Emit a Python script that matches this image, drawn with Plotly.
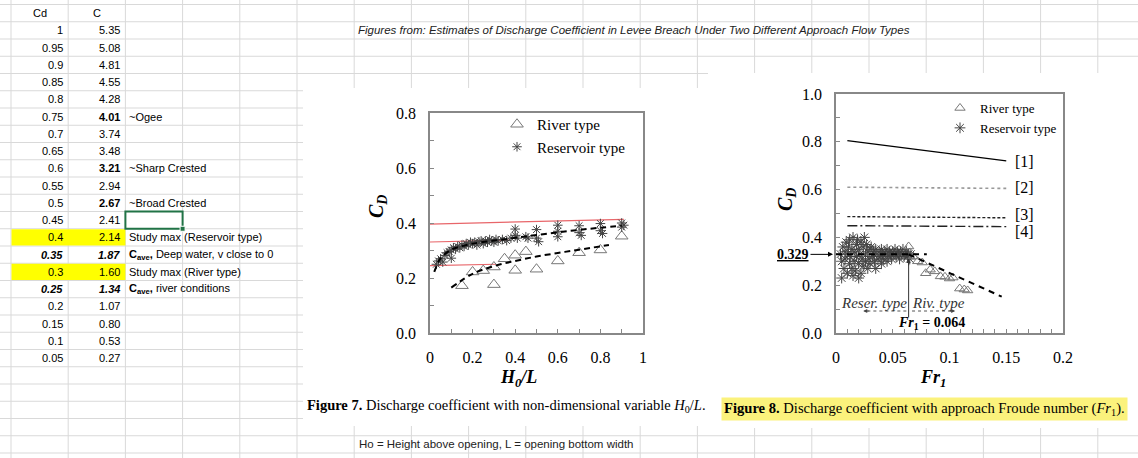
import plotly.graph_objects as go

W, H = 1138, 458

# ---------------- spreadsheet data ----------------
cd_vals = [1, 0.95, 0.9, 0.85, 0.8, 0.75, 0.7, 0.65, 0.6, 0.55, 0.5, 0.45, 0.4, 0.35, 0.3, 0.25, 0.2, 0.15, 0.1, 0.05]
c_vals = [5.35, 5.08, 4.81, 4.55, 4.28, 4.01, 3.74, 3.48, 3.21, 2.94, 2.67, 2.41, 2.14, 1.87, 1.60, 1.34, 1.07, 0.80, 0.53, 0.27]
notes = ["", "", "", "", "", "~Ogee", "", "", "~Sharp Crested", "", "~Broad Crested", "",
         "Study max (Reservoir type)", "<b>C<sub>ave</sub>,</b> Deep water, v close to 0",
         "Study max (River type)", "<b>C<sub>ave</sub>,</b> river conditions", "", "", "", ""]
c_bold = [0, 0, 0, 0, 0, 1, 0, 0, 1, 0, 1, 0, 0, 1, 0, 1, 0, 0, 0, 0]
row_italic = [0] * 13 + [1, 0, 1] + [0] * 4
row_yellow = [0] * 12 + [1, 0, 1] + [0] * 5
selected_row = 11
sheet_title = "Figures from: Estimates of Discharge Coefficient in Levee Breach Under Two Different Approach Flow Types"
sheet_footnote = "Ho = Height above opening, L = opening bottom width"

# ---------------- Figure 7 data (Cd vs H0/L) ----------------
f7_river_x = [0.15, 0.20, 0.25, 0.30, 0.30, 0.35, 0.40, 0.40, 0.45, 0.50, 0.60, 0.70, 0.80, 0.90]
f7_river_y = [0.172, 0.222, 0.227, 0.240, 0.176, 0.270, 0.283, 0.228, 0.296, 0.232, 0.262, 0.292, 0.302, 0.352]
f7_res_x = [0.03, 0.04, 0.05, 0.06, 0.07, 0.08, 0.09, 0.10, 0.10, 0.11, 0.12, 0.13, 0.14, 0.15, 0.16, 0.17,
            0.18, 0.19, 0.20, 0.21, 0.22, 0.23, 0.24, 0.25, 0.26, 0.27, 0.28, 0.29, 0.30, 0.31, 0.32, 0.34,
            0.36, 0.38, 0.40, 0.40, 0.41, 0.45, 0.46, 0.50, 0.50, 0.51, 0.60, 0.60, 0.60, 0.70, 0.70, 0.71,
            0.80, 0.80, 0.81, 0.90, 0.90, 0.91]
f7_res_y = [0.250, 0.262, 0.270, 0.258, 0.282, 0.292, 0.296, 0.302, 0.272, 0.310, 0.305, 0.315, 0.310, 0.320,
            0.315, 0.325, 0.320, 0.330, 0.325, 0.330, 0.320, 0.332, 0.335, 0.325, 0.335, 0.330, 0.340, 0.335,
            0.330, 0.340, 0.335, 0.340, 0.336, 0.345, 0.378, 0.355, 0.345, 0.350, 0.345, 0.376, 0.345, 0.332,
            0.392, 0.370, 0.350, 0.390, 0.365, 0.355, 0.398, 0.372, 0.362, 0.400, 0.385, 0.392]
f7_resfit_x = [0.02, 0.05, 0.10, 0.15, 0.20, 0.30, 0.40, 0.50, 0.60, 0.70, 0.80, 0.90]
f7_resfit_y = [0.222, 0.272, 0.303, 0.316, 0.325, 0.336, 0.346, 0.356, 0.366, 0.375, 0.383, 0.390]
f7_rivfit_x = [0.10, 0.20, 0.30, 0.40, 0.50, 0.60, 0.70, 0.84]
f7_rivfit_y = [0.165, 0.215, 0.243, 0.262, 0.278, 0.291, 0.303, 0.320]
f7_red_x = [[0.0, 0.91], [0.0, 0.37], [0.0, 0.31]]
f7_red_y = [[0.396, 0.413], [0.331, 0.338], [0.245, 0.250]]

# ---------------- Figure 8 data (Cd vs Fr1) ----------------
f8_river_x = [0.064, 0.068, 0.072, 0.076, 0.079, 0.083, 0.087, 0.092, 0.096, 0.100, 0.103, 0.109, 0.113, 0.116]
f8_river_y = [0.362, 0.320, 0.300, 0.295, 0.250, 0.265, 0.258, 0.237, 0.235, 0.228, 0.232, 0.186, 0.182, 0.178]
f8_res_x = [0.004, 0.005, 0.005, 0.006, 0.007, 0.008, 0.008, 0.009, 0.010, 0.010, 0.011, 0.012, 0.012, 0.013,
            0.014, 0.014, 0.015, 0.016, 0.016, 0.017, 0.018, 0.018, 0.019, 0.020, 0.020, 0.021, 0.022, 0.022,
            0.023, 0.024, 0.024, 0.025, 0.026, 0.026, 0.027, 0.028, 0.028, 0.029, 0.030, 0.030, 0.031, 0.032,
            0.033, 0.034, 0.035, 0.036, 0.037, 0.038, 0.039, 0.040, 0.041, 0.042, 0.043, 0.044, 0.045, 0.046,
            0.047, 0.048, 0.049, 0.050, 0.051, 0.052, 0.053, 0.054, 0.055, 0.056, 0.057, 0.058, 0.059, 0.060,
            0.061, 0.062, 0.063, 0.064, 0.065, 0.066, 0.035, 0.040, 0.045, 0.020, 0.015]
f8_res_y = [0.33, 0.30, 0.23, 0.36, 0.27, 0.34, 0.31, 0.38, 0.25, 0.33, 0.36, 0.29, 0.39, 0.32,
            0.27, 0.35, 0.40, 0.30, 0.34, 0.26, 0.37, 0.32, 0.39, 0.29, 0.35, 0.33, 0.25, 0.38,
            0.31, 0.36, 0.28, 0.40, 0.33, 0.30, 0.37, 0.27, 0.34, 0.31, 0.35, 0.29, 0.36, 0.32,
            0.34, 0.30, 0.35, 0.33, 0.31, 0.34, 0.32, 0.35, 0.33, 0.31, 0.34, 0.33, 0.35, 0.32,
            0.34, 0.33, 0.31, 0.34, 0.33, 0.35, 0.32, 0.34, 0.33, 0.31, 0.34, 0.33, 0.35, 0.32,
            0.33, 0.34, 0.32, 0.33, 0.31, 0.33, 0.27, 0.29, 0.30, 0.23, 0.24]
f8_ref_x = [0.01, 0.15]
f8_ref_y = {"[1]": [0.805, 0.720], "[2]": [0.610, 0.605], "[3]": [0.487, 0.482], "[4]": [0.449, 0.445]}
f8_ref_label_y = {"[1]": 0.716, "[2]": 0.607, "[3]": 0.494, "[4]": 0.423}
fr_threshold = 0.064
cd_avg = 0.329
f8_resfit_x = [0.0, 0.08]
f8_rivfit_x = [0.064, 0.146]
f8_rivfit_y = [0.329, 0.152]

# ---------------- helpers ----------------
def px(x):
    return x / W

def py(y):
    return 1 - y / H

SERIF = "Liberation Serif"
SANS = "Liberation Sans"
GRID = "#d9d9d9"

col_x = [11 + 57.2 * i for i in range(20)]
row_y = [4.5 + 17.25 * k for k in range(27)]
row_c = [4.5 + 17.25 * (k + 0.5) for k in range(27)]

shapes = []
for x in col_x:
    shapes.append(dict(type="line", xref="paper", yref="paper", x0=px(x), x1=px(x), y0=0, y1=1,
                       line=dict(color=GRID, width=1), layer="below"))
for y in row_y:
    shapes.append(dict(type="line", xref="paper", yref="paper", x0=0, x1=1, y0=py(y), y1=py(y),
                       line=dict(color=GRID, width=1), layer="below"))
# pasted figure images (white)
for (x0, y0, x1, y1) in [(303, 88, 708, 426), (708, 73, 1138, 428)]:
    shapes.append(dict(type="rect", xref="paper", yref="paper", x0=px(x0), x1=px(x1), y0=py(y1), y1=py(y0),
                       fillcolor="white", line=dict(width=0), layer="below"))
# yellow cells
for i, yel in enumerate(row_yellow):
    if yel:
        k = i + 1
        shapes.append(dict(type="rect", xref="paper", yref="paper", x0=px(col_x[0] + 0.5), x1=px(col_x[2]),
                           y0=py(row_y[k + 1] - 0.5), y1=py(row_y[k] + 0.5),
                           fillcolor="#ffff00", line=dict(width=0), layer="below"))
# selected cell
ks = selected_row + 1
shapes.append(dict(type="rect", xref="paper", yref="paper", x0=px(col_x[2]), x1=px(col_x[3]),
                   y0=py(row_y[ks + 1]), y1=py(row_y[ks]), line=dict(color="#217346", width=2),
                   fillcolor="rgba(0,0,0,0)", layer="below"))
shapes.append(dict(type="rect", xref="paper", yref="paper", x0=px(col_x[3] - 2.5), x1=px(col_x[3] + 2.5),
                   y0=py(row_y[ks + 1] + 2.5), y1=py(row_y[ks + 1] - 2.5), line=dict(color="white", width=1),
                   fillcolor="#217346", layer="below"))

annotations = []
cell_font = dict(family=SANS, size=11, color="black")
annotations.append(dict(text="Cd", x=px((col_x[0] + col_x[1]) / 2), y=py(row_c[0]), xref="paper", yref="paper",
                        showarrow=False, font=cell_font, xanchor="center", yanchor="middle"))
annotations.append(dict(text="C", x=px((col_x[1] + col_x[2]) / 2), y=py(row_c[0]), xref="paper", yref="paper",
                        showarrow=False, font=cell_font, xanchor="center", yanchor="middle"))
for i, (cd, c) in enumerate(zip(cd_vals, c_vals)):
    k = i + 1
    ycen = py(row_c[k])
    t_cd = f"{cd:g}"
    t_c = f"{c:.2f}"
    if row_italic[i]:
        t_cd = f"<b><i>{t_cd}</i></b>"
        t_c = f"<b><i>{t_c}</i></b>"
    elif c_bold[i]:
        t_c = f"<b>{t_c}</b>"
    annotations.append(dict(text=t_cd, x=px(col_x[1] - 3), y=ycen, xref="paper", yref="paper", showarrow=False,
                            font=cell_font, xanchor="right", yanchor="middle"))
    annotations.append(dict(text=t_c, x=px(col_x[2] - 3), y=ycen, xref="paper", yref="paper", showarrow=False,
                            font=cell_font, xanchor="right", yanchor="middle"))
    if notes[i]:
        annotations.append(dict(text=notes[i], x=px(col_x[2] + 2), y=ycen, xref="paper", yref="paper",
                                showarrow=False, font=cell_font, xanchor="left", yanchor="middle"))

annotations.append(dict(text=f"<i>{sheet_title}</i>", x=px(356), y=py(row_c[1]), xref="paper", yref="paper",
                        showarrow=False, font=dict(family=SANS, size=11.5, color="#222"), xanchor="left",
                        yanchor="middle"))
annotations.append(dict(text=sheet_footnote, x=px(357), y=py(row_c[25]), xref="paper", yref="paper",
                        showarrow=False, font=dict(family=SANS, size=11.5, color="#222"), xanchor="left",
                        yanchor="middle"))

# figure captions
annotations.append(dict(text="<b>Figure 7.</b> Discharge coefficient with non-dimensional variable <i>H</i><sub>0</sub>/<i>L</i>.",
                        x=px(305), y=py(406), xref="paper", yref="paper", showarrow=False,
                        font=dict(family=SERIF, size=14.5, color="black"), xanchor="left", yanchor="middle"))
annotations.append(dict(text="<b>Figure 8.</b> Discharge coefficient with approach Froude number (<i>Fr</i><sub>1</sub>).",
                        x=px(721), y=py(409), xref="paper", yref="paper", showarrow=False,
                        font=dict(family=SERIF, size=14.6, color="black"), xanchor="left", yanchor="middle",
                        bgcolor="#fbf27c", borderpad=2))

# axis titles
annotations += [
    dict(text="<b><i>C<sub>D</sub></i></b>", x=px(377), y=py(207), xref="paper", yref="paper", showarrow=False,
         textangle=-90, xanchor="center", yanchor="middle", font=dict(family=SERIF, size=20, color="black")),
    dict(text="<b><i>H<sub>0</sub>/L</i></b>", x=px(518), y=py(378), xref="paper", yref="paper", showarrow=False,
         xanchor="center", yanchor="middle", font=dict(family=SERIF, size=18, color="black")),
    dict(text="<b><i>C<sub>D</sub></i></b>", x=px(786), y=py(200), xref="paper", yref="paper", showarrow=False,
         textangle=-90, xanchor="center", yanchor="middle", font=dict(family=SERIF, size=20, color="black")),
    dict(text="<b><i>Fr<sub>1</sub></i></b>", x=px(933), y=py(378), xref="paper", yref="paper", showarrow=False,
         xanchor="center", yanchor="middle", font=dict(family=SERIF, size=18, color="black")),
]

# figure 8 labels
for lab, yv in f8_ref_label_y.items():
    annotations.append(dict(text=lab, x=0.156, y=yv, xref="x2", yref="y2", showarrow=False, xanchor="left",
                            yanchor="middle", font=dict(family=SERIF, size=16, color="black")))
annotations += [
    dict(text="<b><u>0.329</u></b>", x=px(833), y=cd_avg, xref="paper", yref="y2", showarrow=True,
         ax=-40, ay=0, arrowhead=2, arrowsize=1, arrowwidth=1, arrowcolor="black",
         font=dict(family=SERIF, size=14, color="black")),
    dict(text="<i>Reser. type</i>", x=0.0335, y=0.126, xref="x2", yref="y2", showarrow=False,
         font=dict(family=SERIF, size=15, color="#333")),
    dict(text="<i>Riv. type</i>", x=0.090, y=0.126, xref="x2", yref="y2", showarrow=False,
         font=dict(family=SERIF, size=15, color="#333")),
    dict(text="<b><i>Fr</i><sub>1</sub> = 0.064</b>", x=0.0837, y=0.04, xref="x2", yref="y2", showarrow=False,
         font=dict(family=SERIF, size=14, color="black")),
    dict(text="", x=0.024, y=0.092, xref="x2", yref="y2", showarrow=True, ax=7, ay=0, arrowhead=2,
         arrowsize=0.8, arrowwidth=1, arrowcolor="#444"),
    dict(text="", x=0.105, y=0.092, xref="x2", yref="y2", showarrow=True, ax=-7, ay=0, arrowhead=2,
         arrowsize=0.8, arrowwidth=1, arrowcolor="#444"),
    dict(text="", x=fr_threshold, y=0.31, xref="x2", yref="y2", showarrow=True, ax=0, ay=8, arrowhead=2,
         arrowsize=0.8, arrowwidth=1, arrowcolor="#333"),
]
shapes += [
    dict(type="line", xref="x2", yref="y2", x0=fr_threshold, x1=fr_threshold, y0=0.065, y1=0.31,
         line=dict(color="#333", width=1)),
    dict(type="line", xref="x2", yref="y2", x0=0.062, x1=0.025, y0=0.092, y1=0.092,
         line=dict(color="#555", width=1, dash="dot")),
    dict(type="line", xref="x2", yref="y2", x0=0.067, x1=0.104, y0=0.092, y1=0.092,
         line=dict(color="#555", width=1, dash="dot")),
]

fig = go.Figure()

# ---- Figure 7 traces ----
for xs, ys in zip(f7_red_x, f7_red_y):
    fig.add_trace(go.Scatter(x=xs, y=ys, mode="lines", line=dict(color="#e8666a", width=1.2),
                             showlegend=False, xaxis="x", yaxis="y"))
fig.add_trace(go.Scatter(x=f7_river_x, y=f7_river_y, mode="markers", name="River type",
                         marker=dict(symbol="triangle-up-open", size=11, color="#777", line=dict(width=1)),
                         xaxis="x", yaxis="y", legend="legend"))
fig.add_trace(go.Scatter(x=f7_res_x, y=f7_res_y, mode="markers", name="Reservoir type",
                         marker=dict(symbol="asterisk-open", size=8, color="#444", line=dict(width=1, color="#444")),
                         xaxis="x", yaxis="y", legend="legend"))
fig.add_trace(go.Scatter(x=f7_resfit_x, y=f7_resfit_y, mode="lines", line=dict(color="black", width=2, dash="6px,4px",
                         shape="spline"), showlegend=False, xaxis="x", yaxis="y"))
fig.add_trace(go.Scatter(x=f7_rivfit_x, y=f7_rivfit_y, mode="lines", line=dict(color="black", width=2, dash="6px,4px",
                         shape="spline"), showlegend=False, xaxis="x", yaxis="y"))

# ---- Figure 8 traces ----
ref_styles = {"[1]": dict(color="black", width=1.4),
              "[2]": dict(color="#999", width=1.6, dash="dot"),
              "[3]": dict(color="#222", width=1.4, dash="3px,2px"),
              "[4]": dict(color="#222", width=1.4, dash="10px,3px,2px,3px")}
for lab, ys in f8_ref_y.items():
    fig.add_trace(go.Scatter(x=f8_ref_x, y=ys, mode="lines", line=ref_styles[lab], showlegend=False,
                             xaxis="x2", yaxis="y2"))
fig.add_trace(go.Scatter(x=f8_res_x, y=f8_res_y, mode="markers", name="Reservoir type",
                         marker=dict(symbol="asterisk-open", size=9, color="#444", line=dict(width=1, color="#444")),
                         xaxis="x2", yaxis="y2", legend="legend2", legendrank=2))
fig.add_trace(go.Scatter(x=f8_river_x, y=f8_river_y, mode="markers", name="River type",
                         marker=dict(symbol="triangle-up-open", size=9, color="#777", line=dict(width=1)),
                         xaxis="x2", yaxis="y2", legend="legend2", legendrank=1))
fig.add_trace(go.Scatter(x=f8_resfit_x, y=[cd_avg, cd_avg], mode="lines",
                         line=dict(color="black", width=2, dash="6px,5px"), showlegend=False, xaxis="x2", yaxis="y2"))
fig.add_trace(go.Scatter(x=f8_rivfit_x, y=f8_rivfit_y, mode="lines",
                         line=dict(color="black", width=2, dash="6px,5px"), showlegend=False, xaxis="x2", yaxis="y2"))

tickfont = dict(family=SERIF, size=16, color="black")
ax_common = dict(showgrid=False, zeroline=False, showline=True, mirror=True, linecolor="#888", linewidth=1.5,
                 ticks="inside", ticklen=4, tickcolor="#888", tickfont=tickfont, ticklabelstandoff=9,
                 automargin=False)

fig.update_layout(
    width=W, height=H, margin=dict(l=0, r=0, t=0, b=0, autoexpand=False),
    paper_bgcolor="white", plot_bgcolor="rgba(0,0,0,0)",
    xaxis=dict(domain=[px(430), px(643)], range=[0, 1], anchor="y",
               tickvals=[0, 0.2, 0.4, 0.6, 0.8, 1.0], ticktext=["0", "0.2", "0.4", "0.6", "0.8", "1"],
               minor=dict(ticks="inside", dtick=0.1, ticklen=4, tickcolor="#888"), **ax_common),
    yaxis=dict(domain=[py(333), py(113)], range=[0, 0.8], anchor="x",
               tickvals=[0, 0.2, 0.4, 0.6, 0.8], ticktext=["0.0", "0.2", "0.4", "0.6", "0.8"],
               minor=dict(ticks="inside", dtick=0.1, ticklen=4, tickcolor="#888"), **ax_common),
    xaxis2=dict(domain=[px(836), px(1063)], range=[0, 0.2], anchor="y2",
                tickvals=[0, 0.05, 0.1, 0.15, 0.2], ticktext=["0", "0.05", "0.1", "0.15", "0.2"],
                minor=dict(ticks="inside", dtick=0.01, ticklen=4, tickcolor="#888"), **ax_common),
    yaxis2=dict(domain=[py(333), py(94)], range=[0, 1.0], anchor="x2",
                tickvals=[0, 0.2, 0.4, 0.6, 0.8, 1.0], ticktext=["0.0", "0.2", "0.4", "0.6", "0.8", "1.0"],
                minor=dict(ticks="inside", dtick=0.1, ticklen=4, tickcolor="#888"), **ax_common),
    legend=dict(x=px(497), y=py(108), xanchor="left", yanchor="top", bgcolor="rgba(0,0,0,0)",
                font=dict(family=SERIF, size=15, color="black"), itemwidth=30, tracegroupgap=0),
    legend2=dict(x=px(940), y=py(93), xanchor="left", yanchor="top", bgcolor="rgba(0,0,0,0)",
                 font=dict(family=SERIF, size=13, color="black"), itemwidth=30, tracegroupgap=0),
    shapes=shapes, annotations=annotations,
)

fig.write_html("out.html")
